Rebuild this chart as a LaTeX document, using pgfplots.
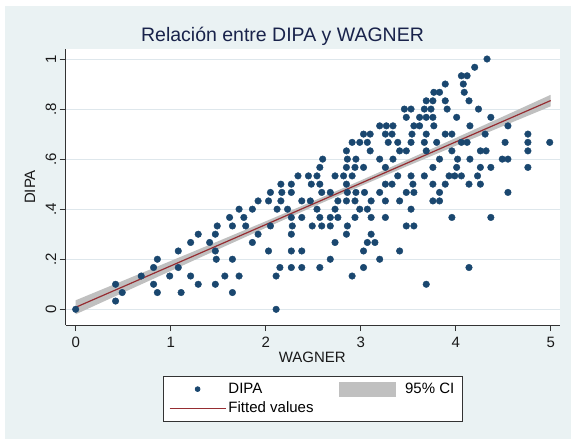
\documentclass[border=0pt]{standalone}
\usepackage{pgfplots}
\pgfplotsset{compat=1.18}
\usepackage{fontspec}
\setmainfont{Liberation Sans}
\definecolor{bgc}{RGB}{234,242,243}
\definecolor{gridc}{RGB}{222,231,236}
\definecolor{navyc}{RGB}{26,71,111}
\definecolor{maroonc}{RGB}{150,45,50}
\definecolor{cic}{RGB}{192,192,192}
\definecolor{titlec}{RGB}{25,35,75}
\newcommand\fs[1]{\fontsize{#1bp}{#1bp}\selectfont}
\begin{document}
\begin{tikzpicture}
\useasboundingbox (-65.7bp,-114bp) rectangle (505.3bp,325bp);
\fill[white] (-65.7bp,-114bp) rectangle (505.3bp,325bp);
\fill[bgc] (-60.7bp,-114bp) rectangle (505.3bp,319bp);
\begin{axis}[
  at={(0,0)}, anchor=south west,
  scale only axis, width=494.3bp, height=276bp,
  xmin=-0.105, xmax=5.098, ymin=-0.0627, ymax=1.040,
  axis x line*=bottom, axis y line*=left,
  axis line style={draw=black!80, line width=0.9bp, -},
  axis background/.style={fill=white},
  xtick={0,1,2,3,4,5}, xticklabels={0,1,2,3,4,5},
  ytick={0,0.2,0.4,0.6,0.8,1}, yticklabels={0,.2,.4,.6,.8,1},
  tick align=outside, major tick length=6bp,
  tick style={draw=black!80, line width=0.9bp},
  ymajorgrids, grid style={draw=gridc, line width=1bp},
  ticklabel style={font=\fs{15}, text=black!90},
  xticklabel style={yshift=-3bp},
  yticklabel style={rotate=90, anchor=south},
  xlabel={WAGNER}, ylabel={DIPA},
  label style={font=\fs{15}, text=black!90},
  xlabel style={at={(axis description cs:0.4989,-0.1159)}, anchor=center},
  ylabel style={at={(axis description cs:-0.0722,0.5)}, anchor=center},
  title={Relación entre DIPA y WAGNER},
  title style={at={(axis description cs:0.4386,1.058)}, anchor=center, yshift=-9bp, font=\fs{19.5}, text=titlec},
  legend columns=2,
  legend cell align=left,
  legend style={at={(axis description cs:0.4996,-0.2674)}, anchor=center,
    draw=black!80, line width=0.8bp, fill=white, font=\fs{15},
    inner xsep=6bp, inner ysep=4.5bp, row sep=3bp,
    /tikz/every even column/.append style={column sep=23bp},
    /tikz/column 3/.append style={column sep=7bp}},
]
\addplot[only marks, mark=*, mark size=3.3bp, color=navyc,
  legend image code/.code={\fill[navyc] (28bp,0bp) circle (2.4bp);}]
coordinates {
(0.00,0.000) (2.11,0.000)
(0.42,0.033)
(0.49,0.067) (0.86,0.067) (1.11,0.067) (1.65,0.067)
(0.42,0.100) (0.82,0.100) (1.29,0.100) (1.47,0.100) (3.69,0.100)
(0.69,0.133) (0.99,0.133) (1.21,0.133) (1.57,0.133) (1.72,0.133) (2.11,0.133) (2.91,0.133)
(0.82,0.167) (1.08,0.167) (2.15,0.167) (2.27,0.167) (2.38,0.167) (2.57,0.167) (3.03,0.167) (4.14,0.167)
(0.86,0.200) (1.48,0.200) (1.65,0.200) (2.68,0.200) (3.20,0.200)
(1.08,0.233) (1.47,0.233) (2.03,0.233) (2.27,0.233) (2.38,0.233) (3.03,0.233) (3.41,0.233)
(1.21,0.267) (1.41,0.267) (1.86,0.267) (2.73,0.267) (3.07,0.267) (3.15,0.267)
(1.29,0.300) (1.47,0.300) (1.92,0.300) (2.27,0.300) (2.85,0.300) (3.11,0.300)
(1.49,0.333) (1.65,0.333) (1.79,0.333) (2.05,0.333) (2.28,0.333) (2.49,0.333) (2.59,0.333) (2.68,0.333) (2.86,0.333) (3.48,0.333) (3.56,0.333)
(1.62,0.367) (1.77,0.367) (2.27,0.367) (2.38,0.367) (2.57,0.367) (2.68,0.367) (2.76,0.367) (2.94,0.367) (3.11,0.367) (3.26,0.367) (3.96,0.367) (4.37,0.367)
(1.72,0.400) (1.86,0.400) (2.12,0.400) (2.23,0.400) (2.54,0.400) (2.73,0.400) (2.99,0.400) (3.07,0.400) (3.53,0.400)
(1.92,0.433) (2.03,0.433) (2.16,0.433) (2.38,0.433) (2.47,0.433) (2.76,0.433) (2.85,0.433) (2.94,0.433) (3.11,0.433) (3.26,0.433) (3.41,0.433) (3.76,0.433) (3.83,0.433)
(2.05,0.467) (2.17,0.467) (2.27,0.467) (2.59,0.467) (2.68,0.467) (2.86,0.467) (2.95,0.467) (3.04,0.467) (3.20,0.467) (3.48,0.467) (3.56,0.467) (3.83,0.467) (4.55,0.467)
(2.16,0.500) (2.27,0.500) (2.48,0.500) (2.57,0.500) (2.85,0.500) (3.26,0.500) (3.33,0.500) (3.55,0.500) (3.76,0.500) (3.89,0.500) (4.14,0.500) (4.26,0.500)
(2.34,0.533) (2.45,0.533) (2.54,0.533) (2.73,0.533) (2.82,0.533) (2.91,0.533) (3.39,0.533) (3.53,0.533) (3.67,0.533) (3.93,0.533) (3.99,0.533) (4.06,0.533) (4.23,0.533)
(2.57,0.567) (2.85,0.567) (2.94,0.567) (3.03,0.567) (3.26,0.567) (3.76,0.567) (4.01,0.567) (4.26,0.567) (4.37,0.567) (4.76,0.567)
(2.60,0.600) (2.86,0.600) (2.95,0.600) (3.20,0.600) (3.34,0.600) (3.83,0.600) (4.02,0.600) (4.15,0.600) (4.49,0.600) (4.55,0.600)
(2.85,0.633) (3.10,0.633) (3.41,0.633) (3.48,0.633) (3.69,0.633) (3.96,0.633) (4.26,0.633) (4.32,0.633) (4.76,0.633)
(2.91,0.667) (2.99,0.667) (3.07,0.667) (3.29,0.667) (3.39,0.667) (3.53,0.667) (3.67,0.667) (3.80,0.667) (4.06,0.667) (4.12,0.667) (4.52,0.667) (4.76,0.667) (4.99,0.667)
(3.03,0.700) (3.10,0.700) (3.26,0.700) (3.33,0.700) (3.54,0.700) (3.69,0.700) (3.89,0.700) (3.96,0.700) (4.31,0.700) (4.76,0.700)
(3.20,0.733) (3.27,0.733) (3.34,0.733) (3.56,0.733) (3.62,0.733) (3.77,0.733) (4.15,0.733) (4.55,0.733)
(3.48,0.767) (3.62,0.767) (3.69,0.767) (3.76,0.767) (4.01,0.767) (4.37,0.767)
(3.46,0.800) (3.53,0.800) (3.67,0.800) (3.74,0.800) (3.91,0.800) (4.24,0.800)
(3.69,0.833) (3.76,0.833) (3.89,0.833) (4.14,0.833)
(3.77,0.867) (3.83,0.867) (4.09,0.867)
(3.89,0.900) (4.08,0.900)
(4.06,0.933) (4.12,0.933)
(4.20,0.967)
(4.33,1.000)
};
\addlegendentry{DIPA}
\addplot[fill=cic, draw=none,
  legend image code/.code={\fill[cic] (0bp,-7.5bp) rectangle (57.6bp,7.5bp);}]
coordinates {
(0,0.036) (0.5,0.1144) (1,0.1931) (1.5,0.2720) (2,0.3516) (2.5,0.4323) (3,0.5148) (3.5,0.5989) (4,0.6844) (4.5,0.7705) (5,0.857)
(5,0.811) (4.5,0.7323) (4,0.6532) (3.5,0.5735) (3,0.4924) (2.5,0.4097) (2,0.3252) (1.5,0.2396) (1,0.1533) (0.5,0.0668) (0,-0.020)
} -- cycle;
\addlegendentry{95\% CI}
\addplot[color=maroonc, line width=1.2bp, no marks,
  legend image code/.code={\draw[maroonc, line width=1.2bp] (0bp,0bp) -- (56.3bp,0bp);}]
coordinates {(0,0.008) (0.5,0.0906) (1,0.1732) (1.5,0.2558) (2,0.3384) (2.5,0.4210) (3,0.5036) (3.5,0.5862) (4,0.6688) (4.5,0.7514) (5,0.834)};
\addlegendentry{Fitted values}
\end{axis}
\end{tikzpicture}
\end{document}
